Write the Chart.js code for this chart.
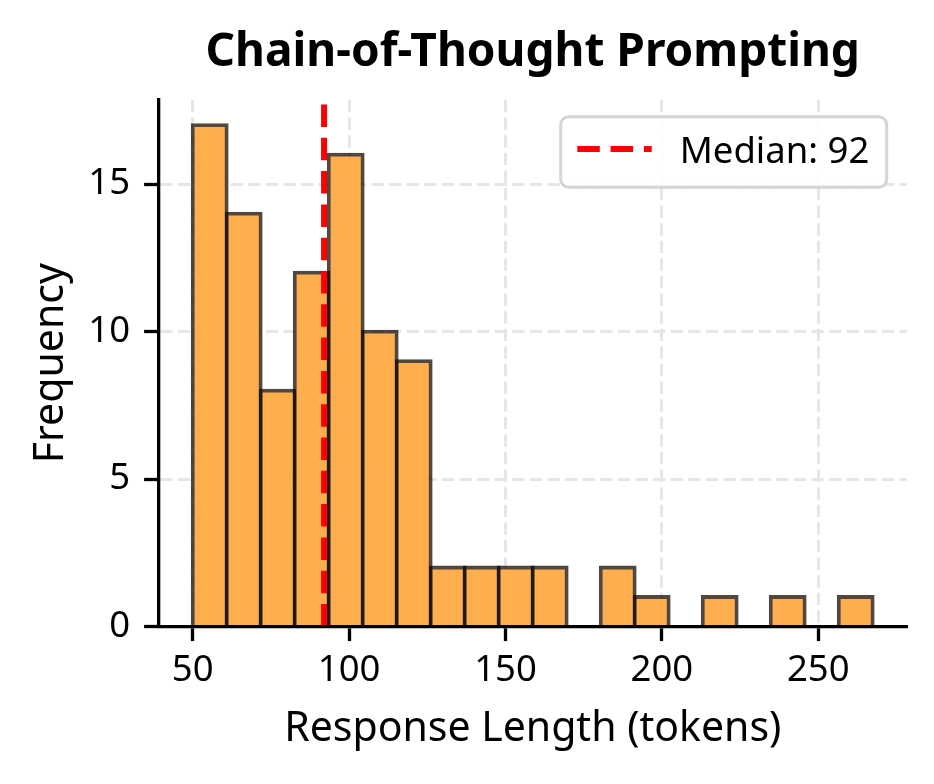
<!DOCTYPE html>
<html>
<head>
<meta charset="utf-8">
<script src="https://cdn.jsdelivr.net/npm/chart.js@4.4.1/dist/chart.umd.min.js"></script>
<style>
  html, body { margin: 0; padding: 0; background: #ffffff; }
  #c { display: block; }
</style>
</head>
<body>
<canvas id="c" width="934" height="784" style="width:934px;height:784px"></canvas>
<script>
// ---- data ----
const chartTitle = 'Chain-of-Thought Prompting';
const xLabel = 'Response Length (tokens)';
const yLabel = 'Frequency';
const binEdges = [50, 60.87, 71.74, 82.61, 93.48, 104.35, 115.22, 126.09, 136.96, 147.83, 158.70,
                  169.57, 180.44, 191.31, 202.18, 213.05, 223.92, 234.79, 245.66, 256.53, 267.40];
const counts = [17, 14, 8, 12, 16, 10, 9, 2, 2, 2, 2, 0, 2, 1, 0, 1, 0, 1, 0, 1];
const medianValue = 92;
const xTicks = [50, 100, 150, 200, 250];
const yTicks = [0, 5, 10, 15];
const xRange = [39.13, 278.3];
const yRange = [0, 17.85];

// ---- chart ----
const FONT = '"Noto Sans", "DejaVu Sans", sans-serif';
Chart.defaults.font.family = FONT;
Chart.defaults.color = '#000000';

const barData = counts.map((c, i) => ({ x: (binEdges[i] + binEdges[i + 1]) / 2, y: c }));
const medianData = [{ x: medianValue, y: yRange[0] }, { x: medianValue, y: yRange[1] }];

const nonZero = (ctx) => ctx.parsed && ctx.parsed.y > 0;

const legendPlugin = {
  id: 'medianLegend',
  afterDraw(chart) {
    const { ctx, chartArea: a } = chart;
    const ds = chart.data.datasets[0];
    const w = 326, h = 70.6;
    const x = a.right - 20.1 - w, y = a.top + 16.7;
    ctx.save();
    ctx.beginPath();
    ctx.roundRect(x, y, w, h, 8);
    ctx.fillStyle = 'rgba(255,255,255,0.85)';
    ctx.fill();
    ctx.lineWidth = 3;
    ctx.strokeStyle = 'rgba(204,204,204,0.85)';
    ctx.stroke();
    ctx.beginPath();
    ctx.setLineDash(ds.borderDash);
    ctx.lineWidth = ds.borderWidth;
    ctx.strokeStyle = ds.borderColor;
    ctx.lineCap = 'butt';
    ctx.moveTo(x + 16.6, y + 32.3);
    ctx.lineTo(x + 91, y + 32.3);
    ctx.stroke();
    ctx.setLineDash([]);
    ctx.font = '36.5px ' + FONT;
    ctx.fillStyle = '#000000';
    ctx.textBaseline = 'alphabetic';
    ctx.textAlign = 'left';
    ctx.fillText(ds.label, x + 119, y + 46);
    ctx.restore();
  }
};

new Chart(document.getElementById('c'), {
  type: 'bar',
  data: {
    datasets: [
      {
        type: 'line',
        label: 'Median: ' + medianValue,
        data: medianData,
        borderColor: '#ff0000',
        backgroundColor: '#ff0000',
        borderWidth: 6,
        borderDash: [22.5, 10.8],
        borderCapStyle: 'butt',
        pointRadius: 0,
        fill: false,
        order: 0
      },
      {
        type: 'bar',
        label: 'Counts',
        data: barData,
        backgroundColor: (ctx) => nonZero(ctx) ? '#FFAE4D' : 'rgba(0,0,0,0)',
        borderColor: 'rgba(20,10,0,0.75)',
        borderWidth: (ctx) => nonZero(ctx) ? 3.8 : 0,
        inflateAmount: (ctx) => nonZero(ctx) ? 1.9 : 0,
        borderSkipped: 'start',
        barPercentage: 1,
        categoryPercentage: 1,
        order: 1
      }
    ]
  },
  options: {
    responsive: false,
    animation: false,
    events: [],
    layout: { padding: { left: 0, right: 27.2, top: 0, bottom: 0 } },
    plugins: {
      legend: { display: false },
      tooltip: { enabled: false },
      title: {
        display: true,
        text: chartTitle,
        fullSize: false,
        color: '#000000',
        font: { family: FONT, size: 46, weight: 'bold', lineHeight: 1.2 },
        padding: { top: 25.2, bottom: 19.6 }
      }
    },
    scales: {
      x: {
        type: 'linear',
        min: xRange[0],
        max: xRange[1],
        offset: false,
        afterBuildTicks: (axis) => { axis.ticks = xTicks.map(v => ({ value: v })); },
        afterFit: (axis) => { axis.height = 157.5; },
        grid: {
          offset: false,
          color: '#e6e6e6',
          lineWidth: 3,
          drawTicks: true,
          tickLength: 14.6,
          tickWidth: 3.3,
          tickColor: '#000000'
        },
        border: { display: true, color: '#000000', width: 3.3, dash: [12.3, 5.3], z: 1 },
        ticks: {
          color: '#000000',
          font: { size: 36.5, lineHeight: 1.2 },
          padding: 8,
          maxRotation: 0,
          autoSkip: false
        },
        title: {
          display: true,
          text: xLabel,
          color: '#000000',
          font: { size: 41, lineHeight: 1.2 },
          padding: { top: 0, bottom: 30.2 }
        }
      },
      y: {
        type: 'linear',
        min: yRange[0],
        max: yRange[1],
        afterBuildTicks: (axis) => { axis.ticks = yTicks.map(v => ({ value: v })); },
        afterFit: (axis) => { axis.width = 158.7; },
        grid: {
          color: '#e6e6e6',
          lineWidth: 3,
          drawTicks: true,
          tickLength: 14.6,
          tickWidth: 3.3,
          tickColor: '#000000'
        },
        border: { display: true, color: '#000000', width: 3.3, dash: [12.3, 5.3], z: 1 },
        ticks: {
          color: '#000000',
          font: { size: 36.5, lineHeight: 1.2 },
          padding: 14
        },
        title: {
          display: true,
          text: yLabel,
          color: '#000000',
          font: { size: 41, lineHeight: 1.2 },
          padding: { top: 27, bottom: 0 }
        }
      }
    }
  },
  plugins: [legendPlugin]
});
</script>
</body>
</html>
